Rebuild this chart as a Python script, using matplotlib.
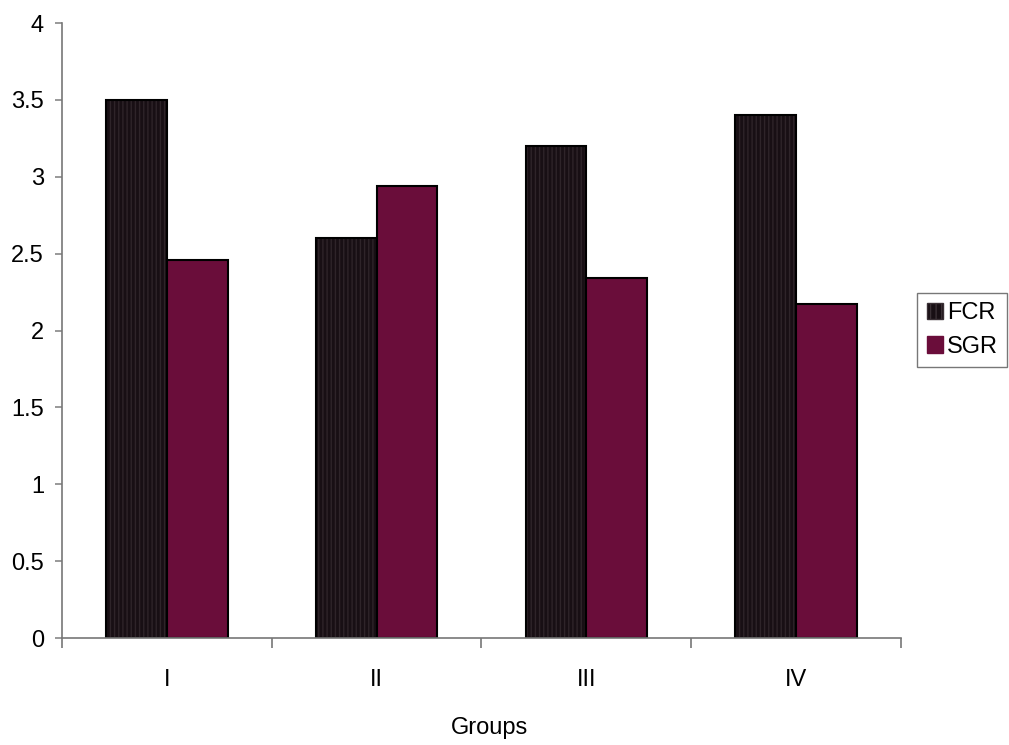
import numpy as np
import matplotlib
matplotlib.use("Agg")
import matplotlib.pyplot as plt
from matplotlib.patches import Patch

groups = ["I", "II", "III", "IV"]
fcr = [3.50, 2.60, 3.20, 3.40]
sgr = [2.46, 2.94, 2.34, 2.17]

plt.rcParams['font.family'] = ['Liberation Sans', 'DejaVu Sans']

fcr_color = '#180f14'
sgr_color = '#6a0d3a'

fig = plt.figure(figsize=(10.09, 7.45), dpi=100)
ax = fig.add_axes([0.0614, 0.1436, 0.8316, 0.8255])

x = np.arange(len(groups))
w = 0.29

# FCR bars with faint vertical stripes, then a black outline on top
ax.bar(x - w / 2, fcr, w, color=fcr_color, edgecolor='#2e2429', hatch='||||', linewidth=0)
ax.bar(x - w / 2, fcr, w, fill=False, edgecolor='black', linewidth=1.5)
ax.bar(x + w / 2, sgr, w, color=sgr_color, edgecolor='black', linewidth=1.5)

ax.set_xlim(-0.5, 3.5)
ax.set_ylim(0, 4)
ax.set_yticks(np.arange(0, 4.01, 0.5))
ax.set_yticklabels(['0', '0.5', '1', '1.5', '2', '2.5', '3', '3.5', '4'])

# x ticks sit on group boundaries, labels centred under groups
ax.set_xticks(np.arange(-0.5, 3.6, 1.0))
ax.set_xticklabels([])
ax.set_xticks(x, minor=True)
ax.set_xticklabels(groups, minor=True)
ax.tick_params(axis='x', which='minor', length=0, pad=22, labelsize=17)
ax.tick_params(axis='x', which='major', length=7, width=1.2, color='#777777', direction='out')
ax.tick_params(axis='y', length=5, width=1.2, color='#888888', labelsize=17, pad=8)

for s in ['top', 'right']:
    ax.spines[s].set_visible(False)
for s in ['left', 'bottom']:
    ax.spines[s].set_color('#777777')
    ax.spines[s].set_linewidth(1.2)

ax.set_xlabel('Groups', fontsize=17)
ax.xaxis.set_label_coords(0.51, -0.128)

handles = [Patch(facecolor=fcr_color, edgecolor='#3a3035', hatch='|||'),
           Patch(facecolor=sgr_color, edgecolor='#6a0d3a')]
leg = fig.legend(handles, ['FCR', 'SGR'], loc='center left',
                 bbox_to_anchor=(0.909, 0.557), fontsize=17,
                 frameon=True, fancybox=False, handlelength=0.7, handleheight=0.7,
                 handletextpad=0.15, borderpad=0.4, labelspacing=0.5, borderaxespad=0)
leg.get_frame().set_edgecolor('#555555')
leg.get_frame().set_linewidth(1.0)

fig.savefig('out.png', dpi=100)
